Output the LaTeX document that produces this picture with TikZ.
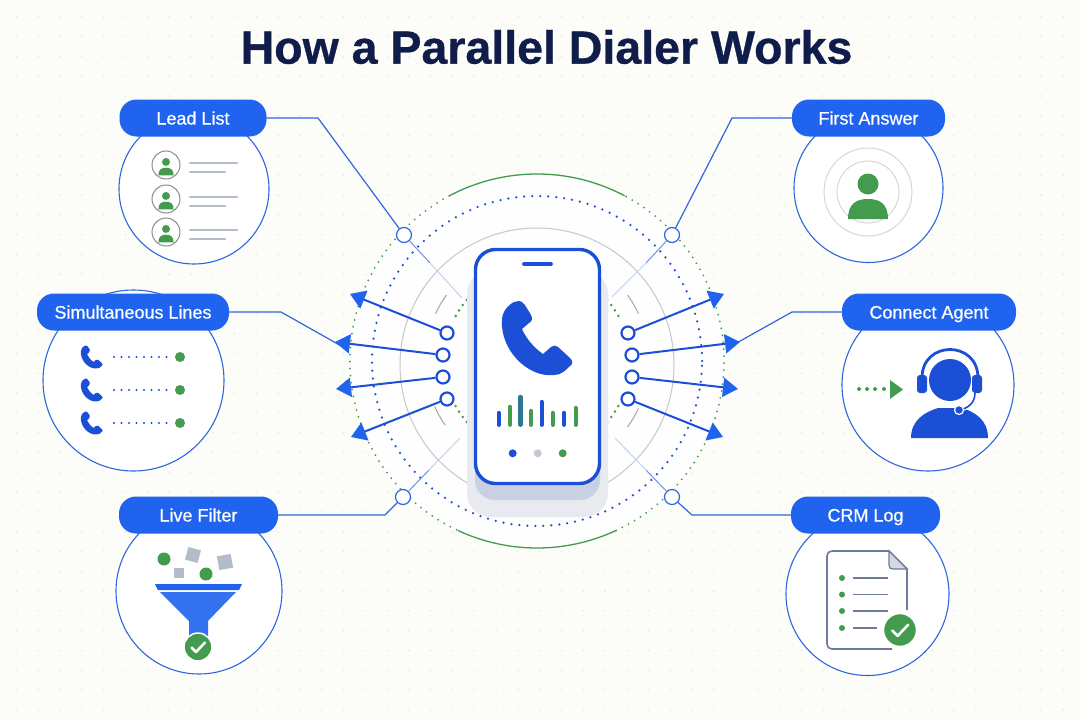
\documentclass[tikz,border=0pt]{standalone}
\usepackage{fontspec}
\setmainfont{Liberation Sans}
\newfontfamily\pillfont[FakeBold=0.5]{Liberation Sans}
\newfontfamily\titlefont[FakeBold=0.6]{Liberation Sans Bold}
\usetikzlibrary{arrows.meta}

\definecolor{paper}{HTML}{FCFCF9}
\definecolor{griddot}{HTML}{E6E8E6}
\definecolor{navy}{HTML}{101C4A}
\definecolor{pillblue}{HTML}{1F63EE}
\definecolor{wireblue}{HTML}{2F66DD}
\definecolor{deepblue}{HTML}{1B50D6}
\definecolor{leafgreen}{HTML}{439B4D}
\definecolor{softgrey}{HTML}{B4BBC9}
\definecolor{docgrey}{HTML}{6F7C99}
\definecolor{phonehalo}{HTML}{E8EAF0}
\definecolor{phonedark}{HTML}{C8D0E2}

\tikzset{%
  handset/.pic = {%
    \fill (-19,-37) .. controls (-15,-37) and (-13,-33) .. (-7,-23) .. controls (-5,-19) and (-6,-17) .. (-9,-15)
      -- (-16,-9) .. controls (-12,0) and (-5,9) .. (5,16) -- (13,9) .. controls (15,7) and (18,7) .. (20,9)
      -- (32,20) .. controls (35,23) and (35,26) .. (32,28) .. controls (27,33) and (23,37) .. (16,37)
      .. controls (-10,40) and (-38,12) .. (-36,-18) .. controls (-36,-26) and (-30,-33) .. (-24,-36)
      .. controls (-22,-37) and (-21,-37) .. (-19,-37) -- cycle;
  },
  person/.pic = {%
    \fill (0,-8) circle[radius=10.5];
    \fill (-20,27) .. controls (-20,12) and (-12,7) .. (0,7) .. controls (12,7) and (20,12) .. (20,27) -- cycle;
  },
  badge/.pic = {%
    \fill[leafgreen, draw=white, line width=1.5] (0,0) circle[radius=14];
    \draw[white, line width=2.6, line cap=round, line join=round] (-6.5,0.5) -- (-2,5) -- (7,-4.5);
  },
}

\begin{document}
\begin{tikzpicture}[%
    x=1pt, y=-1pt,
    bubble/.style = {%
      circle,
      draw = wireblue,
      fill = white,
      line width = 1.1,
      inner sep = 0,
    },
    pill/.style = {%
      rectangle,
      rounded corners = 17pt,
      fill = pillblue,
      text = white,
      minimum height = 37,
      inner sep = 0,
      text height = 17,
      text depth = 4,
      font = \pillfont\fontsize{18}{20}\selectfont,
    },
    wire/.style = {draw = wireblue, line width = 1.2},
    ring/.style = {%
      circle,
      draw = wireblue,
      fill = white,
      line width = 1.2,
      minimum size = 15,
      inner sep = 0,
    },
    port/.style = {%
      circle,
      draw = deepblue,
      fill = white,
      line width = 2.2,
      minimum size = 13,
      inner sep = 0,
    },
    ray/.style = {%
      draw = deepblue,
      line width = 2,
      -{Triangle[length=15pt, width=19pt, color=pillblue]},
    },
    bar/.style = {line width = 4.4, line cap = round},
    textline/.style = {draw = softgrey, line width = 2.8, line cap = round},
    logline/.style = {draw = docgrey, line width = 1.8},
  ]
  \useasboundingbox (0,0) rectangle (1080,720);
  \fill[paper] (0,0) rectangle (1080,720);
  \foreach \i in {0,...,49} {
    \foreach \j in {0,...,35} {
      \fill[griddot] (16.5+21.8*\i,16.8+19.8*\j) circle[radius=0.9];
    }
  }
  \fill[white, opacity=0.9] (537,361) circle[radius=187];

  \node[font=\titlefont\fontsize{46.5}{50}\selectfont, text=navy, inner sep=0] (title) at (546.5,47) {How a Parallel Dialer Works};

  % rings round the phone
  \begin{scope}[shift={(537,361)}, y=1pt]
    \draw[black!22!white, line width=1] (0,-4) circle[radius=137];
    \draw[deepblue, line width=2.5, line cap=round, dash pattern=on 0pt off 8pt] (0,0) circle[radius=165];
    \draw[leafgreen, line width=2, line cap=round, dash pattern=on 0pt off 7pt] (118:187) arc[start angle=118, end angle=245, radius=187];
    \draw[leafgreen, line width=2, line cap=round, dash pattern=on 0pt off 7pt] (295:187) arc[start angle=295, end angle=422, radius=187];
    \draw[leafgreen, line width=1.3] (62:187) arc[start angle=62, end angle=118, radius=187];
    \draw[leafgreen, line width=1.3] (245:187) arc[start angle=245, end angle=295, radius=187];
    \foreach \a in {25,144,204,324} {
      \draw[black!35!white, line width=1] (\a:112) arc[start angle=\a, end angle=\a+11, radius=112];
    }
    \foreach \a in {29,139,209,319} {
      \draw[leafgreen, line width=2.8, line cap=round, dash pattern=on 0pt off 6.5pt] (\a:93) arc[start angle=\a, end angle=\a+13, radius=93];
    }
  \end{scope}

  % bubbles and labels
  \node[bubble, minimum size=150] (listb)    at (194,189)     {};
  \node[bubble, minimum size=181] (linesb)   at (133.5,380.5) {};
  \node[bubble, minimum size=166] (filterb)  at (199,591)     {};
  \node[bubble, minimum size=149] (answerb)  at (868.5,188)   {};
  \node[bubble, minimum size=172] (agentb)   at (928,385)     {};
  \node[bubble, minimum size=163] (crmb)     at (867.5,594)   {};

  \node[pill, minimum width=147] (list)   at (193,118)   {Lead List};
  \node[pill, minimum width=192] (lines)  at (133,312)   {Simultaneous Lines};
  \node[pill, minimum width=159] (filter) at (198.5,515) {Live Filter};
  \node[pill, minimum width=153] (answer) at (868.5,118) {First Answer};
  \node[pill, minimum width=174] (agent)  at (929,312)   {Connect Agent};
  \node[pill, minimum width=149] (crm)    at (865.5,515) {CRM Log};

  % connectors
  \node[ring] (ringa) at (404,235) {};
  \node[ring] (ringb) at (672,235) {};
  \node[ring] (ringc) at (403,497) {};
  \node[ring] (ringd) at (672,497) {};
  \coordinate (benda) at (318,118);
  \coordinate (bendb) at (732,118);
  \coordinate (bendc) at (385,515);
  \coordinate (bendd) at (692,515);
  \coordinate (bende) at (281,312);
  \coordinate (bendf) at (792,312);
  \coordinate (enda)  at (343,347);
  \coordinate (endb)  at (733,345);
  \draw[wire] (list.east) -- (benda) -- (ringa);
  \draw[wire] (answer.west) -- (bendb) -- (ringb);
  \draw[wire] (filter.east) -- (bendc) -- (ringc);
  \draw[wire] (crm.west) -- (bendd) -- (ringd);
  \draw[wire] (lines.east) -- (bende) -- (enda);
  \draw[wire] (agent.west) -- (bendf) -- (endb);

  \coordinate (mida) at (430,263);
  \coordinate (midb) at (646,263);
  \coordinate (midc) at (429,470);
  \coordinate (midd) at (646,470);
  \coordinate (faea) at (462,298);
  \coordinate (faeb) at (612,297);
  \coordinate (faec) at (460,438);
  \coordinate (faed) at (615,438);
  \foreach \r/\m/\e in {ringa/mida/faea, ringb/midb/faeb, ringc/midc/faec, ringd/midd/faed} {
    \draw[draw=wireblue!70!white, line width=1] (\r) -- (\m);
    \draw[draw=wireblue!30!white, line width=1] (\m) -- (\e);
  }

  % phone
  \fill[phonehalo, rounded corners=24pt] (467,270) rectangle (608,517);
  \fill[phonedark, rounded corners=20pt] (475,300) rectangle (600,500);
  \node[rectangle, rounded corners=20pt, draw=deepblue, fill=white, line width=3.4, minimum width=124, minimum height=234, inner sep=0] (phone) at (537.5,366.5) {};
  \draw[deepblue, line width=3.8, line cap=round] (524,264) -- (551,264);
  \pic[fill=deepblue] at (538,338) {handset};

  \draw[bar, deepblue]  (498.7,424.7) -- (498.7,413);
  \draw[bar, leafgreen] (510,424.7) -- (510,407);
  \draw[bar, deepblue!50!leafgreen] (520.3,424.7) -- (520.3,397);
  \draw[bar, leafgreen] (531,424.7) -- (531,411);
  \draw[bar, deepblue]  (541.7,424.7) -- (541.7,402);
  \draw[bar, leafgreen] (552.7,424.7) -- (552.7,413);
  \draw[bar, deepblue]  (564,424.7) -- (564,413);
  \draw[bar, leafgreen] (575.7,424.7) -- (575.7,408);
  \fill[deepblue]  (512.7,453.3) circle[radius=4];
  \fill[softgrey!80!white] (537.7,453.3) circle[radius=4];
  \fill[leafgreen] (562.7,453.3) circle[radius=4];

  % rays
  \foreach \n/\x/\y/\tx/\ty in {a/447/333/350/294, b/443/355/335/342, c/443/377/336/389, d/447/399/351/437} {
    \node[port] (port\n) at (\x,\y) {};
    \coordinate (tip\n) at (\tx,\ty);
    \draw[ray] (port\n) -- (tip\n);
  }
  \foreach \n/\x/\y/\tx/\ty in {e/628/333/724/294, f/632/355/740/342, g/632/377/738/389, h/628/399/723/437} {
    \node[port] (port\n) at (\x,\y) {};
    \coordinate (tip\n) at (\tx,\ty);
    \draw[ray] (port\n) -- (tip\n);
  }

  % lead list
  \foreach \y in {165,199,232} {
    \draw[black!45!white, line width=1] (166,\y) circle[radius=14];
    \pic[fill=leafgreen, scale=0.38] at (166,\y) {person};
    \draw[textline] (190,\y-2) -- (237,\y-2);
    \draw[textline] (190,\y+7) -- (225,\y+7);
  }

  % simultaneous lines
  \foreach \y in {357,390,423} {
    \pic[fill=deepblue, scale=0.31] at (92,\y) {handset};
    \draw[deepblue, line width=2.2, line cap=round, dash pattern=on 0pt off 7.5pt] (114,\y) -- (172,\y);
    \fill[leafgreen] (180,\y) circle[radius=5];
  }

  % live filter
  \fill[leafgreen] (164,559) circle[radius=6.5];
  \fill[leafgreen] (206,574) circle[radius=6.5];
  \fill[softgrey, rotate around={-15:(193,555)}] (186.5,548.5) rectangle (199.5,561.5);
  \fill[softgrey] (174,568) rectangle (184,578);
  \fill[softgrey, rotate around={10:(225,562)}] (218,555) rectangle (232,569);
  \fill[pillblue] (155,584) -- (242,584) -- (239,590) -- (158,590) -- cycle;
  \fill[pillblue!90!white] (160,592) -- (236,592) -- (208,621) -- (208,640) -- (189,640) -- (189,621) -- cycle;
  \pic at (198,647) {badge};

  % first answer
  \draw[leafgreen!25!black!18!white, line width=1] (868,192) circle[radius=44];
  \draw[leafgreen!25!black!18!white, line width=1] (868,192) circle[radius=31];
  \pic[fill=leafgreen] at (868,192) {person};

  % connect agent
  \foreach \x in {859,867,875,884} {
    \fill[leafgreen] (\x,389) circle[radius=2];
  }
  \fill[leafgreen] (890,380) -- (903,389.5) -- (890,399) -- cycle;
  \fill[deepblue] (950,380) circle[radius=21];
  \fill[deepblue] (911,438) .. controls (911,420) and (925,412) .. (938,408) -- (962,408) .. controls (975,412) and (988,420) .. (988,438) -- cycle;
  \draw[deepblue, line width=2.8] (922,378) .. controls (922,340) and (978,340) .. (978,378);
  \fill[deepblue, rounded corners=3pt] (917,375) rectangle (927,393);
  \fill[deepblue, rounded corners=3pt] (972,375) rectangle (982,393);
  \draw[white, line width=3.6] (975,393) .. controls (975,403) and (968,408) .. (960,410);
  \draw[deepblue, line width=1.6] (975,393) .. controls (975,403) and (968,408) .. (960,410);
  \fill[deepblue, draw=white, line width=1.2] (959,410) circle[radius=4.5];

  % crm log
  \draw[docgrey, line width=1.6, line join=round] (907,610) -- (907,569) -- (889,551) -- (832,551) .. controls (829,551) and (827,553) .. (827,556)
    -- (827,644) .. controls (827,647) and (829,649) .. (832,649) -- (892,649);
  \fill[docgrey!30!white] (889,551) -- (907,569) -- (893,569) .. controls (890,569) and (889,568) .. (889,565) -- cycle;
  \draw[docgrey, line width=1.2] (889,551) -- (907,569) -- (893,569) .. controls (890,569) and (889,568) .. (889,565) -- cycle;
  \foreach \y/\e in {578/888, 594.5/888, 611/888, 628/877} {
    \fill[leafgreen] (842,\y) circle[radius=3];
    \draw[logline] (853,\y) -- (\e,\y);
  }
  \pic[scale=1.18] at (900,630) {badge};
\end{tikzpicture}
\end{document}
